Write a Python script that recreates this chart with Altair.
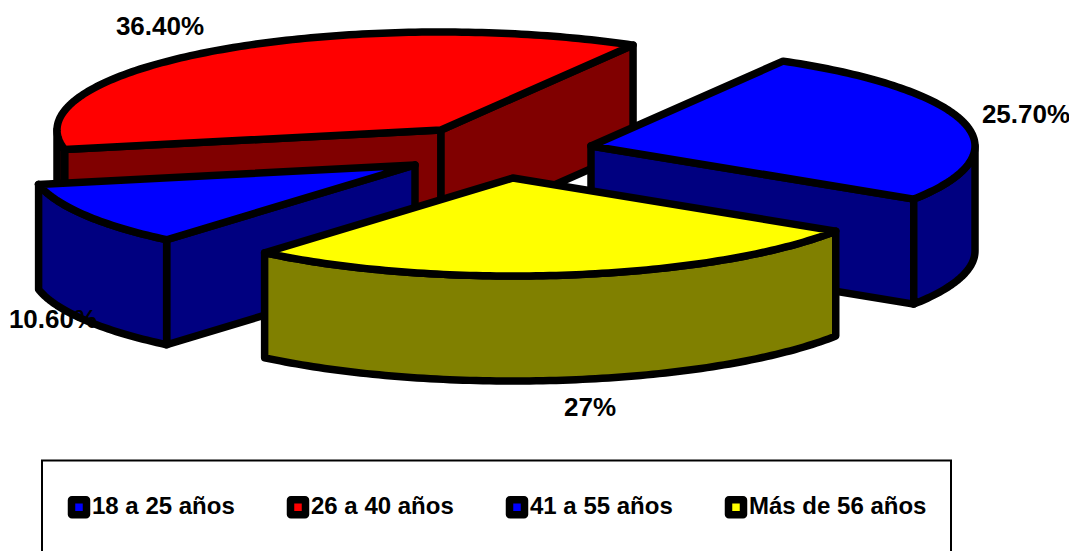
import math
import altair as alt
import pandas as pd

# --- chart data -----------------------------------------------------------
categories = ["18 a 25 años", "26 a 40 años", "41 a 55 años", "Más de 56 años"]
values = [10.6, 36.4, 25.7, 27.0]
value_labels = ["10.60%", "36.40%", "25.70%", "27%"]
top_colors = ["#0000ff", "#ff0000", "#0000ff", "#ffff00"]
side_colors = ["#000080", "#800000", "#000080", "#808000"]

# --- layout of the picture (in page pixels) --------------------------------
W, H = 1069, 551
RX, RY, DEPTH = 384, 98, 105
FIRST_ANGLE = 229.7
APEX = [(415, 165), (441, 130), (591, 146), (513, 178)]
DRAW_ORDER = [1, 2, 0, 3]
LABEL_POS = [(53, 320), (160, 27), (1026, 115), (590, 408)]
FONT = "Liberation Sans"
ROUNDED_SQUARE = (
    "M-0.95,-1H0.95A0.05,0.05,0,0,1,1,-0.95V0.95A0.05,0.05,0,0,1,0.95,1"
    "H-0.95A0.05,0.05,0,0,1,-1,0.95V-0.95A0.05,0.05,0,0,1,-0.95,-1Z"
)

xs = alt.Scale(domain=[8, W], nice=False, zero=False)
ys = alt.Scale(domain=[H, 8], nice=False, zero=False)
X = alt.X("x:Q", scale=xs, axis=None)
Y = alt.Y("y:Q", scale=ys, axis=None)
fill_scale = alt.Scale(domain=categories, range=top_colors)


def rim(apex, t):
    r = math.radians(t)
    return apex[0] + RX * math.cos(r), apex[1] - RY * math.sin(r)


def arc_pts(apex, a, b):
    n = max(2, int(abs(a - b)) + 2)
    return [rim(apex, a + (b - a) * k / (n - 1)) for k in range(n)]


def frame(points, cat=None):
    rows = [dict(x=p[0], y=p[1], i=k) for k, p in enumerate(list(points) + [points[0]])]
    df = pd.DataFrame(rows)
    if cat is not None:
        df["cat"] = cat
    return df


STROKE = dict(stroke="#000000", strokeWidth=7.5, strokeJoin="round", strokeCap="round", clip=False)
layers = []


def wall(points, color):
    pts = list(points)
    down = [(p[0], p[1] + DEPTH) for p in reversed(pts)]
    layers.append(
        alt.Chart(frame(pts + down)).mark_line(fill=color, **STROKE).encode(x=X, y=Y, order="i:Q")
    )


bounds = []
a = FIRST_ANGLE
for v in values:
    b = a - 360 * v / sum(values)
    bounds.append((a, b))
    a = b

for s in DRAW_ORDER:
    a1, a2 = bounds[s]
    apex = APEX[s]
    if math.cos(math.radians(a1)) < 0:
        wall([apex, rim(apex, a1)], side_colors[s])
    if math.cos(math.radians(a2)) > 0:
        wall([apex, rim(apex, a2)], side_colors[s])
    # the part of the rim that faces the viewer (sin t < 0)
    for lo, hi in [(a2, a1), (a2 + 360, a1 + 360), (a2 - 360, a1 - 360)]:
        start, end = max(lo, 180), min(hi, 360)
        if start < end:
            wall(arc_pts(apex, start, end), side_colors[s])
    top = [apex] + arc_pts(apex, a1, a2)
    layers.append(
        alt.Chart(frame(top, categories[s]))
        .mark_line(**STROKE)
        .encode(
            x=X,
            y=Y,
            order="i:Q",
            fill=alt.Fill(
                "cat:N",
                scale=fill_scale,
                sort=categories,
                legend=alt.Legend(
                    title=None,
                    orient="none",
                    legendX=59,
                    legendY=487,
                    columns=4,
                    gridAlign="all",
                    columnPadding=5,
                    symbolType=ROUNDED_SQUARE,
                    symbolSize=225,
                    symbolStrokeColor="#000000",
                    symbolStrokeWidth=7.5,
                    symbolOpacity=1,
                    labelFont=FONT,
                    labelFontSize=24,
                    labelFontWeight="bold",
                    labelColor="#000000",
                    labelLimit=300,
                    labelOffset=1,
                ),
            ),
        )
    )

# legend frame (its lower edge falls outside the picture)
box = pd.DataFrame({"x": [42], "x2": [951], "y": [460.5], "y2": [600]})
layers.insert(
    0,
    alt.Chart(box)
    .mark_rect(fill="#ffffff", stroke="#000000", strokeWidth=2, clip=True)
    .encode(x=X, x2="x2:Q", y=Y, y2="y2:Q"),
)

# value labels
labels = pd.DataFrame(
    {
        "t": value_labels,
        "x": [p[0] for p in LABEL_POS],
        "y": [p[1] for p in LABEL_POS],
    }
)
layers.append(
    alt.Chart(labels)
    .mark_text(font=FONT, fontSize=26, fontWeight="bold", color="#000000", align="center", baseline="middle")
    .encode(x=X, y=Y, text="t:N")
)

chart = (
    alt.layer(*layers)
    .resolve_scale(fill="shared")
    .properties(width=W - 8, height=H - 8, padding=0, autosize=alt.AutoSizeParams(type="none"), background="#ffffff")
    .configure_view(stroke=None)
)
chart.save("out.html", embed_options={"renderer": "svg", "actions": False})
